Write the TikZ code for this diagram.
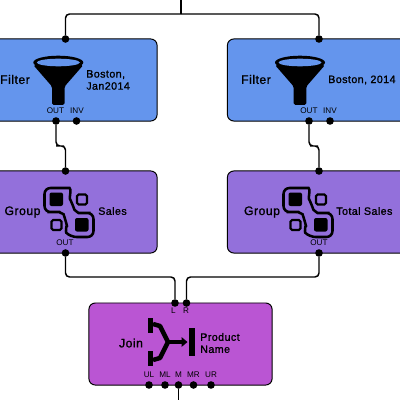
\documentclass[tikz,border=0pt]{standalone}
\usepackage{fontspec}
\setmainfont{Liberation Sans}
\newfontfamily\heavyfont[FakeBold=1.2, LetterSpace=4]{Liberation Sans}
\usetikzlibrary{arrows.meta,positioning}

\tikzset{
  box/.style={draw=black, line width=0.7pt, rounded corners=1.6mm, minimum width=4.58cm, minimum height=2.05cm, inner sep=0pt},
  port/.style={circle, fill=black, inner sep=0pt, minimum size=0.19cm},
  link/.style={line width=1.05pt, rounded corners=1mm},
  title/.style={font=\fontsize{8.7}{10.5}\heavyfont, inner sep=0pt},
  info/.style={font=\fontsize{7.6}{8.6}\heavyfont, align=left, anchor=west, inner sep=0pt},
  tag/.style={font=\fontsize{5.8}{6}\selectfont, inner sep=0pt},
  funnel/.pic={
    \fill[black, rounded corners=0.4mm] (-25,2.5) -- (-6.3,24) -- (-6.3,42.5) -- (6.3,42.5) -- (6.3,24) -- (25,2.5) -- cycle;
    \fill[black] (0,0) ellipse (25 and 6.8);
    \fill[filterblue] (0,0) ellipse (21.5 and 3.8);
  },
  groupicon/.pic={
    \draw[line width=1.8pt, rounded corners=1.5mm] (-24,-24) -- (-5,-24) .. controls (3,-24) and (1,-14) .. (4,-8) .. controls (6,-2) and (10,1) .. (16,1) -- (25,1) -- (25,25) -- (2,25) .. controls (-3,20) and (-2,12) .. (-3,8) .. controls (-5,2) and (-10,0) .. (-15,0) -- (-24,0) -- cycle;
    \fill[black, rounded corners=0.5mm] (-19,-19.5) rectangle (-5.5,-6);
    \fill[black, rounded corners=0.5mm] (6.5,6) rectangle (20,19.5);
    \draw[line width=1.5pt, rounded corners=0.4mm] (8.5,-17.5) rectangle (18.5,-7.5);
    \draw[line width=1.5pt, rounded corners=0.4mm] (-17,8) rectangle (-7,18);
  },
  joinicon/.pic={
    \fill[black] (-31.5,-24) rectangle (-26,-9);
    \fill[black] (-31.5,9) rectangle (-26,24);
    \draw[line width=3.2pt, line join=bevel] (-26,-18) -- (-19,-16) -- (-11,0) -- (-19,16) -- (-26,18);
    \draw[line width=3.2pt] (-11,0) -- (4,0);
    \fill[black] (2.5,-5) -- (8.5,0) -- (2.5,5) -- cycle;
    \fill[black] (10,-14) rectangle (15.5,14);
  }
}
\definecolor{filterblue}{HTML}{6495ED}
\definecolor{grouppurple}{HTML}{9370DB}
\definecolor{joinpurple}{HTML}{BA55D3}

\begin{document}
\begin{tikzpicture}[x=0.025cm, y=-0.025cm]
    \clip (0,0) rectangle (400,400);

    % Filter boxes
    \node[box, fill=filterblue] (filterA) at (65.5,80) {};
    \node[box, fill=filterblue] (filterB) at (319,80) {};
    \pic at (58.3,62.5) {funnel};
    \pic at (300,62.5) {funnel};
    \node[title] (filterAtitle) at (15,79.5) {Filter};
    \node[title] (filterBtitle) at (256,79.5) {Filter};
    \node[info] (filterAinfo) at (86,80) {Boston,\\Jan2014};
    \node[info] (filterBinfo) at (328,80) {Boston, 2014};

    % Group boxes
    \node[box, fill=grouppurple] (groupA) at (65.5,212) {};
    \node[box, fill=grouppurple] (groupB) at (319,212) {};
    \pic at (68.5,212) {groupicon};
    \pic at (307.5,212) {groupicon};
    \node[title] (groupAtitle) at (22.5,212) {Group};
    \node[title] (groupBtitle) at (262,212) {Group};
    \node[info] (groupAinfo) at (98,211) {Sales};
    \node[info] (groupBinfo) at (336,211) {Total Sales};

    % Join box
    \node[box, fill=joinpurple] (join) at (180.5,344) {};
    \pic at (179,342) {joinicon};
    \node[title] (jointitle) at (131,343) {Join};
    \node[info] (joininfo) at (200,343) {Product\\Name};

    % Ports
    \node[port] (filterAin) at (65.5,39) {};
    \node[port] (filterBin) at (319,39) {};
    \node[port] (filterAout) at (56,121) {};
    \node[port] (filterAinv) at (76.5,121) {};
    \node[port] (filterBout) at (309,121) {};
    \node[port] (filterBinv) at (330,121) {};
    \node[port] (groupAin) at (65.5,171) {};
    \node[port] (groupBin) at (319,171) {};
    \node[port] (groupAout) at (65.5,253) {};
    \node[port] (groupBout) at (319,253) {};
    \node[port] (joinL) at (175,303) {};
    \node[port] (joinR) at (186.5,303) {};
    \foreach \name/\xpos in {UL/149, ML/165, M/178.5, MR/193.5, UR/211} {
        \node[port] (join\name) at (\xpos,385) {};
        \node[tag] (tag\name) at (\xpos,375) {\name};
    }

    % Port labels
    \node[tag] (tagAout) at (55.5,111) {OUT};
    \node[tag] (tagAinv) at (77,111) {INV};
    \node[tag] (tagBout) at (309,111) {OUT};
    \node[tag] (tagBinv) at (330,111) {INV};
    \node[tag] (tagCout) at (65,243) {OUT};
    \node[tag] (tagDout) at (319,243) {OUT};
    \node[tag] (tagL) at (173.5,310.5) {L};
    \node[tag] (tagR) at (186,310.5) {R};

    % Connectors
    \coordinate (feed) at (181,0);
    \coordinate (split) at (181,14);
    \coordinate (stepA) at (60,146);
    \coordinate (stepB) at (314,146);
    \coordinate (stepC) at (120,277);
    \coordinate (stepD) at (250,277);
    \coordinate (exit) at (178.5,400);
    \draw[link] (feed) -- (split);
    \draw[link] (split) -| (filterAin);
    \draw[link] (split) -| (filterBin);
    \draw[link] (filterAout) |- (stepA) -| (groupAin);
    \draw[link] (filterBout) |- (stepB) -| (groupBin);
    \draw[link] (groupAout) |- (stepC) -| (joinL);
    \draw[link] (groupBout) |- (stepD) -| (joinR);
    \draw[link] (joinM) -- (exit);
\end{tikzpicture}
\end{document}
